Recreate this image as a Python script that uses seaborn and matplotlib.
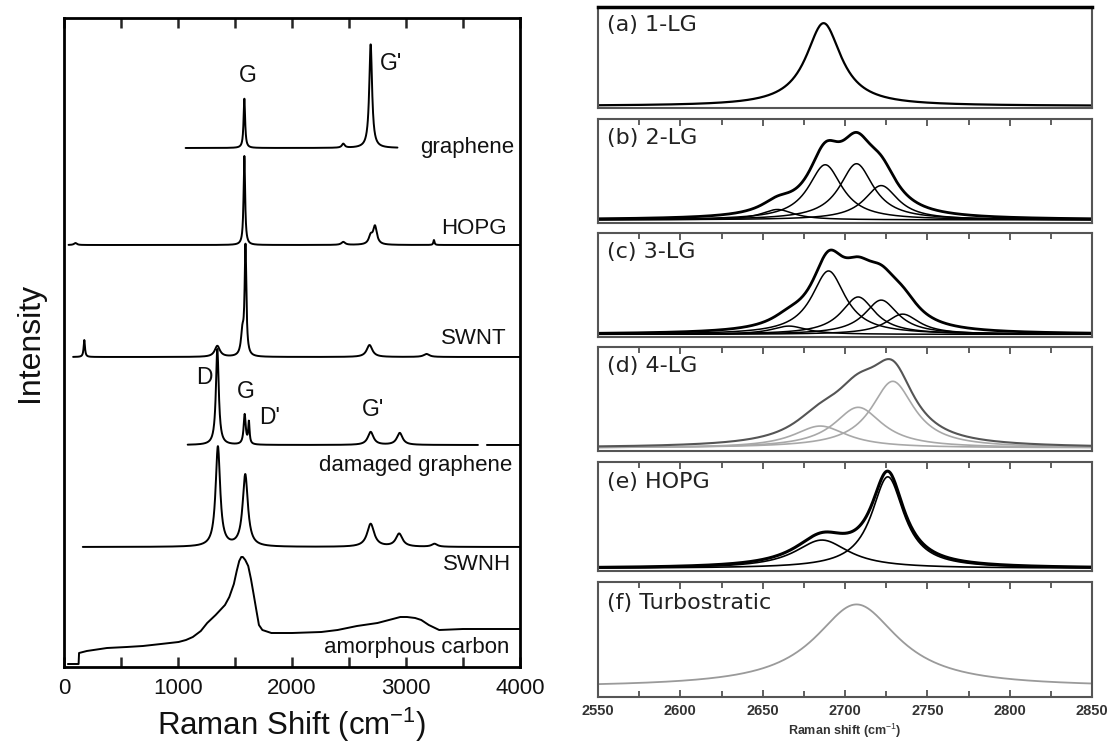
import numpy as np
import pandas as pd
import seaborn as sns
import matplotlib
matplotlib.use("Agg")
import matplotlib.pyplot as plt
from matplotlib.ticker import MultipleLocator

sns.set_theme(style="white")
plt.rcParams['font.family'] = ['Liberation Sans', 'DejaVu Sans']
plt.rcParams['mathtext.fontset'] = 'custom'
plt.rcParams['mathtext.rm'] = 'Liberation Sans'
plt.rcParams['mathtext.bf'] = 'Liberation Sans:bold'

# ---------------- Left panel data (peak tables) -------
graphene_range = [1067, 2925]
graphene_base = 519
graphene_pos = [1582, 2450, 2690]
graphene_fwhm = [16, 30, 30]
graphene_height = [50, 4, 104]

hopg_range = [40, 4000]
hopg_base = 422
hopg_pos = [100, 1582, 2450, 2690, 2728, 3245]
hopg_fwhm = [30, 16, 40, 40, 40, 12]
hopg_height = [2, 89, 3, 8, 18, 5]

swnt_range = [80, 4000]
swnt_base = 310
swnt_pos = [178, 1345, 1565, 1592, 2680, 3180]
swnt_fwhm = [14, 55, 30, 18, 60, 60]
swnt_height = [17, 11, 22, 108, 12, 3]

damaged_ranges = [[1085, 3630], [3710, 4000]]
damaged_base = 222
damaged_pos = [1345, 1585, 1622, 2690, 2945]
damaged_fwhm = [30, 22, 14, 60, 60]
damaged_height = [96, 30, 22, 13, 12]

swnh_range = [165, 4000]
swnh_base = 120
swnh_pos = [1350, 1590, 2690, 2940, 3250]
swnh_fwhm = [48, 55, 75, 70, 60]
swnh_height = [100, 72, 23, 13, 3]

# amorphous carbon: traced points (Raman shift, intensity offset)
amorph_shift = [34, 128, 132, 200, 377, 550, 692, 850, 1005, 1070, 1130,
                1200, 1256, 1330, 1412, 1450, 1490, 1515, 1537, 1555, 1569,
                1590, 1616, 1640, 1663, 1690, 1710, 1740, 1819, 2000, 2257,
                2400, 2570, 2750, 2884, 2950, 3009, 3080, 3134, 3200, 3291,
                3500, 4000]
amorph_int = [3, 3, 14, 16, 19, 20, 21, 23, 25, 27, 30, 36, 44, 52, 62, 70,
              83, 96, 106, 110, 110, 107, 101, 88, 73, 55, 42, 37, 34, 34, 35,
              37, 41, 44, 48, 50, 50, 49, 47, 42, 37, 38, 38]

sample_labels = ["graphene", "HOPG", "SWNT", "damaged graphene", "SWNH",
                 "amorphous carbon"]
sample_label_x = [3947, 3885, 3885, 3929, 3920, 3903]
sample_label_y = [519, 439, 329, 201, 102, 19]

peak_labels = ["G", "G'", "D", "G", "D'", "G'"]
peak_label_x = [1614, 2868, 1228, 1596, 1807, 2710]
peak_label_y = [592, 603, 290, 276, 250, 257]

# ---------------- Right panel data (2D band) --------------------------------
panel_titles = ["(a) 1-LG", "(b) 2-LG", "(c) 3-LG", "(d) 4-LG", "(e) HOPG",
                "(f) Turbostratic"]
lg1_pos, lg1_fwhm, lg1_height = [2687], [26], [0.82]
lg2_pos = [2659, 2688, 2707, 2722]
lg2_fwhm = [24, 25, 25, 25]
lg2_height = [0.10, 0.53, 0.54, 0.33]
lg3_pos = [2666, 2690, 2708, 2722, 2735]
lg3_fwhm = [26, 25, 25, 25, 25]
lg3_height = [0.08, 0.61, 0.36, 0.33, 0.195]
lg4_pos = [2685, 2708, 2729]
lg4_fwhm = [40, 36, 32]
lg4_height = [0.21, 0.39, 0.64]
hopg2d_pos = [2686, 2726]
hopg2d_fwhm = [40, 24]
hopg2d_height = [0.26, 0.84]
turbo_pos, turbo_fwhm, turbo_height = [2707], [62], [0.72]
panel_base = [0.02, 0.03, 0.025, 0.03, 0.024, 0.085]


def lorentz(x, c, w, h):
    return h / (1.0 + ((x - c) / (w / 2.0)) ** 2)


def spectrum(x, pos, fwhm, height):
    y = np.zeros_like(x, dtype=float)
    for c, w, h in zip(pos, fwhm, height):
        y += lorentz(x, c, w, h)
    return y


def draw(ax, x, y, color="black", lw=1.3):
    df = pd.DataFrame({"shift": x, "intensity": y})
    sns.lineplot(data=df, x="shift", y="intensity", ax=ax, color=color,
                 lw=lw, estimator=None, sort=False, errorbar=None)


fig = plt.figure(figsize=(11.12, 7.45), dpi=100)

# ---------------- Left panel ----------------
axL = fig.add_axes([64 / 1112, 1 - 667 / 745, 456 / 1112, 649 / 745])
step = 2.0


def left_curve(rng, base, pos, fwhm, height):
    x = np.arange(rng[0], rng[1] + step, step)
    return x, base + spectrum(x, pos, fwhm, height)


for rng, base, pos, fw, hh in [
        (graphene_range, graphene_base, graphene_pos, graphene_fwhm, graphene_height),
        (hopg_range, hopg_base, hopg_pos, hopg_fwhm, hopg_height),
        (swnt_range, swnt_base, swnt_pos, swnt_fwhm, swnt_height),
        (damaged_ranges[0], damaged_base, damaged_pos, damaged_fwhm, damaged_height),
        (damaged_ranges[1], damaged_base, damaged_pos, damaged_fwhm, damaged_height),
        (swnh_range, swnh_base, swnh_pos, swnh_fwhm, swnh_height)]:
    x, y = left_curve(rng, base, pos, fw, hh)
    draw(axL, x, y, lw=1.4)

draw(axL, np.array(amorph_shift, float), np.array(amorph_int, float), lw=1.4)

for t, x, y in zip(sample_labels, sample_label_x, sample_label_y):
    axL.text(x, y, t, ha="right", va="center", fontsize=16, color="#111111")
for t, x, y in zip(peak_labels, peak_label_x, peak_label_y):
    axL.text(x, y, t, ha="center", va="center", fontsize=16.5, color="#111111")

axL.set_xlim(0, 4000)
axL.set_ylim(0, 649)
axL.set_yticks([])
axL.xaxis.set_major_locator(MultipleLocator(1000))
axL.xaxis.set_minor_locator(MultipleLocator(500))
axL.tick_params(axis="x", which="both", direction="in", top=True, bottom=True,
                length=7, width=1.8, labelsize=16, pad=8, labelcolor="#111111")
for s in axL.spines.values():
    s.set_color("black")
    s.set_linewidth(2.0)
axL.set_xlabel("Raman Shift (cm$^{-1}$)", fontsize=22.5, labelpad=5,
               color="#111111")
axL.set_ylabel("Intensity", fontsize=23, labelpad=14, color="#111111")

# ---------------- Right panels ----------------
panel_px = [(7, 108), (119, 223), (233, 337), (347, 451), (462, 571),
            (582, 697)]
xr = np.arange(2550, 2850.5, 0.5)
axes = []
for i, (t, b) in enumerate(panel_px):
    ax = fig.add_axes([598 / 1112, 1 - b / 745, 494 / 1112, (b - t) / 745])
    axes.append(ax)
    ax.set_xlim(2550, 2850)
    ax.set_ylim(0, 1)
    ax.set_yticks([])
    ax.xaxis.set_major_locator(MultipleLocator(50))
    ax.xaxis.set_minor_locator(MultipleLocator(25))
    last = i == len(panel_px) - 1
    ax.tick_params(axis="x", which="both", direction="in", top=(i > 0),
                   bottom=last, labelbottom=last, length=4, width=1.2,
                   color="#444444")
    ax.tick_params(axis="x", which="major", length=5)
    for s in ax.spines.values():
        s.set_color("#555555")
        s.set_linewidth(1.5)
    ax.text(0.018, 0.82, panel_titles[i], transform=ax.transAxes,
            fontsize=16, color="#222222", va="center", ha="left",
            family=["DejaVu Sans"])
    ax.set_xlabel("")
    ax.set_ylabel("")

axes[0].spines["top"].set_color("black")
axes[0].spines["top"].set_linewidth(2.5)

# (a)
draw(axes[0], xr, panel_base[0] + spectrum(xr, lg1_pos, lg1_fwhm, lg1_height),
     lw=1.6)
# (b), (c)
for ax, pos, fw, hh, base in [(axes[1], lg2_pos, lg2_fwhm, lg2_height, panel_base[1]),
                              (axes[2], lg3_pos, lg3_fwhm, lg3_height, panel_base[2])]:
    for c, w, h in zip(pos, fw, hh):
        draw(ax, xr, base + lorentz(xr, c, w, h), lw=1.1)
    draw(ax, xr, base + spectrum(xr, pos, fw, hh), lw=2.0)
# (d)
for c, w, h in zip(lg4_pos, lg4_fwhm, lg4_height):
    draw(axes[3], xr, panel_base[3] + lorentz(xr, c, w, h), color="#a8a8a8",
         lw=1.2)
draw(axes[3], xr, panel_base[3] + spectrum(xr, lg4_pos, lg4_fwhm, lg4_height),
     color="#555555", lw=1.5)
# (e)
for c, w, h in zip(hopg2d_pos, hopg2d_fwhm, hopg2d_height):
    draw(axes[4], xr, panel_base[4] + lorentz(xr, c, w, h), lw=1.2)
draw(axes[4], xr, panel_base[4] + spectrum(xr, hopg2d_pos, hopg2d_fwhm,
                                           hopg2d_height), lw=2.2)
# (f)
draw(axes[5], xr, panel_base[5] + spectrum(xr, turbo_pos, turbo_fwhm,
                                           turbo_height), color="#9a9a9a",
     lw=1.3)

axes[5].tick_params(axis="x", labelsize=10.5, pad=5)
for lab in axes[5].get_xticklabels():
    lab.set_fontweight("bold")
    lab.set_color("#333333")
axes[5].set_xlabel("Raman shift (cm$^{-1}$)", fontsize=9, fontweight="bold",
                   color="#333333", labelpad=3)
for ax in axes[:5]:
    ax.set_xticklabels([])

fig.savefig("out.png", dpi=100)
